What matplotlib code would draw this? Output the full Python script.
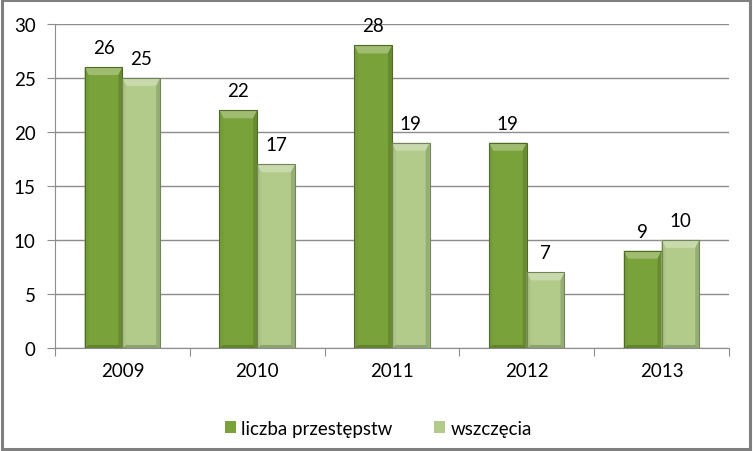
import numpy as np
import matplotlib
matplotlib.use('Agg')
import matplotlib.pyplot as plt
from matplotlib.patches import Polygon, Rectangle
from matplotlib.colors import to_rgb

years = ['2009', '2010', '2011', '2012', '2013']
przestepstwa = [26, 22, 28, 19, 9]
wszczecia = [25, 17, 19, 7, 10]
series_names = ['liczba przestępstw', 'wszczęcia']

dark_green = '#7aa23a'
light_green = '#b2cb8b'

plt.rcParams['font.family'] = ['Lato', 'DejaVu Sans']


def shade(color, f):
  c = np.array(to_rgb(color))
  if f > 0:
    c = c + (1 - c) * f
  else:
    c = c * (1 + f)
  return tuple(np.clip(c, 0, 1))


def bevel(ax, bar, color):
  # fake Excel bevel: light top, subtle sides, dark bottom
  x0, y0 = bar.get_x(), bar.get_y()
  w, h = bar.get_width(), bar.get_height()
  to_disp = ax.transData.transform
  to_data = ax.transData.inverted().transform
  (px0, py0), (px1, py1) = to_disp([(x0, y0), (x0 + w, y0 + h)])
  bt, bs, bb = 8, 4, 3
  bt = min(bt, (py1 - py0) / 2)
  outer = [(px0, py0), (px0, py1), (px1, py1), (px1, py0)]
  inner = [(px0 + bs, py0 + bb), (px0 + bs, py1 - bt), (px1 - bs, py1 - bt), (px1 - bs, py0 + bb)]
  faces = [
    ([outer[1], outer[2], inner[2], inner[1]], shade(color, 0.28)),   # top
    ([outer[0], outer[1], inner[1], inner[0]], shade(color, -0.04)),  # left
    ([outer[2], outer[3], inner[3], inner[2]], shade(color, -0.15)),  # right
    ([outer[3], outer[0], inner[0], inner[3]], shade(color, -0.2)),   # bottom
  ]
  for pts, c in faces:
    ax.add_patch(Polygon(to_data(pts), closed=True, facecolor=c, edgecolor='none', zorder=3))
  ax.add_patch(Rectangle((x0, y0), w, h, facecolor='none',
                         edgecolor=shade(color, -0.35), linewidth=0.8, zorder=4))


fig = plt.figure(figsize=(7.53, 4.52), dpi=100)
fig.patch.set_facecolor('white')
fig.add_artist(Rectangle((0.002, 0.004), 0.994, 0.993, transform=fig.transFigure,
                         facecolor='none', edgecolor='#7f7f7f', linewidth=2.2))

ax = fig.add_axes([0.073, 0.228, 0.895, 0.717])
x = np.arange(len(years))
w = 0.28
bars1 = ax.bar(x - w / 2, przestepstwa, w, color=dark_green, zorder=2, label=series_names[0])
bars2 = ax.bar(x + w / 2, wszczecia, w, color=light_green, zorder=2, label=series_names[1])

ax.set_xlim(-0.5, len(years) - 0.5)
ax.set_ylim(0, 30)
ax.set_yticks(range(0, 31, 5))
ax.yaxis.grid(True, color='#8c8c8c', linewidth=1)
ax.set_axisbelow(True)
for s in ['top', 'right']:
  ax.spines[s].set_visible(False)
ax.spines['left'].set_color('#8c8c8c')
ax.spines['bottom'].set_color('#8c8c8c')
ax.set_xticks(np.arange(-0.5, len(years)), minor=False)
ax.set_xticklabels([])
ax.set_xticks(x, minor=True)
ax.set_xticklabels(years, minor=True)
ax.tick_params(axis='x', which='major', length=6, color='#8c8c8c')
ax.tick_params(axis='x', which='minor', length=0, pad=10, labelsize=13.5)
ax.tick_params(axis='y', length=6, color='#8c8c8c', labelsize=13.5, pad=8)

fig.canvas.draw()
for bars, col in [(bars1, dark_green), (bars2, light_green)]:
  for b in bars:
    bevel(ax, b, col)
    ax.annotate(str(int(b.get_height())), (b.get_x() + b.get_width() / 2, b.get_height()),
                xytext=(0, 8), textcoords='offset points', ha='center', va='bottom',
                fontsize=13.5, color='black')

leg = ax.legend(loc='upper center', bbox_to_anchor=(0.48, -0.17), ncol=2, frameon=False,
                fontsize=13.5, handlelength=0.6, handleheight=0.6, handletextpad=0.3,
                columnspacing=2.2)

fig.savefig('out.png', dpi=100)
